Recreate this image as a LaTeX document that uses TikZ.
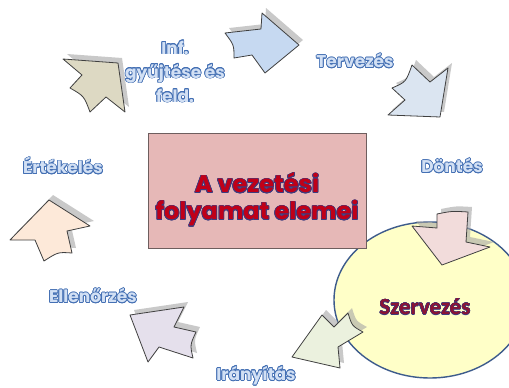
\documentclass[tikz,border=0pt]{standalone}
\usepackage{fontspec}
\usepackage[copies]{contour}
\newfontfamily\lblfont{Poppins}
\newfontfamily\calfont{Carlito}
\definecolor{lblfill}{HTML}{D2E0F4}
\definecolor{lblline}{HTML}{4470B4}
\definecolor{ctrfill}{HTML}{C00018}
\definecolor{ctrline}{HTML}{3C3C80}
\definecolor{boxfill}{HTML}{E6B8B7}
\definecolor{boxline}{HTML}{6E5E5E}
\definecolor{circfill}{HTML}{FFFFC8}
\definecolor{circline}{HTML}{3E5C8C}
\definecolor{szfill}{HTML}{8A1434}
\definecolor{cBeige}{HTML}{DDD9C3}
\definecolor{cBlueA}{HTML}{C6D9F1}
\definecolor{cBlueB}{HTML}{DBE5F1}
\definecolor{cPink}{HTML}{F2DCDB}
\definecolor{cGreen}{HTML}{EBF1DE}
\definecolor{cLav}{HTML}{E5E0EC}
\definecolor{cPeach}{HTML}{FDE9D9}
\newcommand\blbl[1]{\contour{lblline}{\textcolor{lblfill}{#1}}}
\newcommand\clbl[1]{\contour{ctrline}{\textcolor{ctrfill}{#1}}}
\newcommand\pathBeige{(82,75) -- (63,59) -- (118,63) -- (125,112) -- (106,97) -- (90,112) .. controls (84,96) .. (70,88) -- cycle}
\newcommand\pathBlueA{(225,33) -- (261,29) -- (262,13) -- (299,45) -- (265,73) -- (252,55) -- (234,58) .. controls (234,45) .. (225,33) -- cycle}
\newcommand\pathBlueB{(412,65) -- (430,82) -- (448,68) -- (440,117) -- (388,115) -- (405,100) -- (392,88) .. controls (406,82) .. (412,65) -- cycle}
\newcommand\pathPink{(437,214) .. controls (452,211) .. (468,212) -- (466,242) -- (490,247) -- (442,265) -- (412,226) -- (437,228) -- cycle}
\newcommand\pathGreen{(348,313) .. controls (352,326) .. (363,332) -- (338,347) -- (340,368) -- (292,357) -- (322,315) -- (334,327) -- cycle}
\newcommand\pathLav{(130,315) -- (184,307) -- (174,327) -- (196,332) .. controls (190,345) .. (193,358) -- (159,347) -- (148,362) -- cycle}
\newcommand\pathPeach{(49,200) -- (90,226) -- (67,231) -- (72,253) .. controls (58,252) .. (44,261) -- (35,240) -- (10,240) -- cycle}
\contourlength{0.7pt}
\begin{document}
\begin{tikzpicture}[x=1pt,y=-1pt,
  arr/.style={draw=black!75, line width=0.8pt, line join=round},
  shad/.style={fill=black!35, fill opacity=0.6, shift={(4,-5)}},
  lbl/.style={font=\lblfont\bfseries\fontsize{17}{24}\selectfont, align=center, inner sep=0pt},
  ctr/.style={font=\lblfont\bfseries\fontsize{24}{27}\selectfont, align=center, inner sep=0pt}]
\useasboundingbox (0,0) rectangle (509,388);
\fill[white] (0,0) rectangle (509,388);
\begin{scope}
\clip (0,0) rectangle (509,388);
\draw[fill=circfill, draw=circline, line width=1.4pt] (430,300) ellipse [x radius=96pt, y radius=78pt];
\end{scope}
\draw[fill=boxfill, draw=boxline, line width=0.9pt] (148,133) rectangle (366,248);
\node[ctr] (center) at (257,200) {\clbl{A vezetési}\\\clbl{folyamat elemei}};
% arrows
\fill[shad] \pathBeige;
\draw[arr, fill=cBeige] \pathBeige;
\fill[shad] \pathBlueA;
\draw[arr, fill=cBlueA] \pathBlueA;
\fill[shad] \pathBlueB;
\draw[arr, fill=cBlueB] \pathBlueB;
\fill[shad] \pathPink;
\draw[arr, fill=cPink] \pathPink;
\fill[shad] \pathGreen;
\draw[arr, fill=cGreen] \pathGreen;
\fill[shad] \pathLav;
\draw[arr, fill=cLav] \pathLav;
\fill[shad] \pathPeach;
\draw[arr, fill=cPeach] \pathPeach;
% labels
\node[lbl] (inf) at (175,72) {\blbl{Inf.}\\\blbl{gyűjtése és}\\\blbl{feld.}};
\node[lbl] (terv) at (355,61) {\blbl{Tervezés}};
\node[lbl] (dont) at (452,166) {\blbl{Döntés}};
\node[lbl] (ertek) at (63,166) {\blbl{Értékelés}};
\node[lbl] (ellen) at (93,296) {\blbl{Ellenőrzés}};
\node[lbl] (irany) at (256,376) {\blbl{Irányítás}};
\node[inner sep=0pt, font=\calfont\bfseries\fontsize{23}{26}\selectfont] (szerv) at (425,307) {\contourlength{0.3pt}\contour{ctrline}{\textcolor{szfill}{Szervezés}}};
\end{tikzpicture}
\end{document}
